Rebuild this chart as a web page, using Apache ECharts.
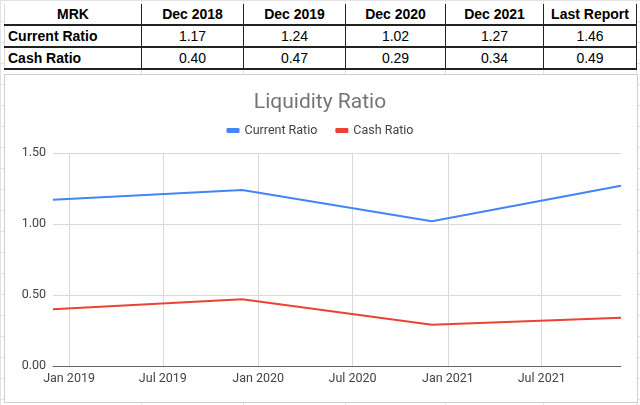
<!DOCTYPE html>
<html>
<head>
<meta charset="utf-8">
<script src="https://cdn.jsdelivr.net/npm/echarts@6/dist/echarts.min.js"></script>
<style>
  html, body { margin: 0; padding: 0; width: 640px; height: 405px; overflow: hidden; background: #fff; }
  #bg { position: absolute; left: 0; top: 0; width: 640px; height: 405px;
    background-image:
      linear-gradient(to right, #e2e2e2 1px, transparent 1px),
      linear-gradient(to bottom, #e2e2e2 1px, transparent 1px);
    background-size: 100% 100%, 100% 21px;
  }
  .vline { position: absolute; top: 0; width: 1px; height: 405px; background: #e2e2e2; }
  #box { position: absolute; left: 4px; top: 74px; width: 632px; height: 327px; background: #fff; border: 1px solid #cfcfcf; }
  #tbl { position: absolute; left: 4px; top: 4px; border-collapse: collapse; font-family: "Liberation Sans", Arial, sans-serif; font-size: 14px; color: #000; background: #fff; table-layout: fixed; }
  #tbl td { padding: 0 3px; height: 20px; border-right: 1px solid #222; border-bottom: 2px solid #222; text-align: center; white-space: nowrap; overflow: hidden; }
  #tbl tr:first-child td { border-top: 1px solid #d9d9d9; height: 19px; }
  #tbl td.lab { text-align: left; font-weight: bold; }
  #tbl td.hd { font-weight: bold; }
  #tbl td:last-child { border-right: 1px solid #222; }
  #tbl td:first-child { border-left: 1px solid #d9d9d9; }
  #chart { position: absolute; left: 0; top: 0; width: 640px; height: 405px; }
</style>
</head>
<body>
<div id="bg"></div>
<div class="vline" style="left:141px"></div>
<div class="vline" style="left:243px"></div>
<div class="vline" style="left:345px"></div>
<div class="vline" style="left:445px"></div>
<div class="vline" style="left:543px"></div>
<div class="vline" style="left:636px"></div>
<div id="box"></div>
<table id="tbl"></table>
<div id="chart"></div>
<script>
// ---- data ----
const tableTitle = 'MRK';
const periods = ['Dec 2018', 'Dec 2019', 'Dec 2020', 'Dec 2021', 'Last Report'];
const rowNames = ['Current Ratio', 'Cash Ratio'];
const currentRatio = [1.17, 1.24, 1.02, 1.27, 1.46];
const cashRatio = [0.40, 0.47, 0.29, 0.34, 0.49];
const chartDates = ['2018-12-01', '2019-12-01', '2020-12-01', '2021-12-01'];
const xTickDates = ['2019-01-01', '2019-07-01', '2020-01-01', '2020-07-01', '2021-01-01', '2021-07-01'];
const xTickLabels = ['Jan 2019', 'Jul 2019', 'Jan 2020', 'Jul 2020', 'Jan 2021', 'Jul 2021'];
const yTicks = [0, 0.5, 1.0, 1.5];
const chartTitle = 'Liquidity Ratio';

// ---- table ----
const colWidths = [137, 102, 102, 100, 98, 93];
const tbl = document.getElementById('tbl');
const cg = document.createElement('colgroup');
colWidths.forEach(w => { const c = document.createElement('col'); c.style.width = w + 'px'; cg.appendChild(c); });
tbl.appendChild(cg);
function addRow(cells, cls) {
  const tr = document.createElement('tr');
  cells.forEach((t, i) => {
    const td = document.createElement('td');
    td.textContent = t;
    if (cls === 'hd') td.className = 'hd';
    else if (i === 0) td.className = 'lab';
    tr.appendChild(td);
  });
  tbl.appendChild(tr);
}
addRow([tableTitle].concat(periods), 'hd');
addRow([rowNames[0]].concat(currentRatio.map(v => v.toFixed(2))), 'v');
addRow([rowNames[1]].concat(cashRatio.map(v => v.toFixed(2))), 'v');

// ---- chart ----
const ts = s => new Date(s + 'T00:00:00Z').getTime();
const xs = chartDates.map(ts);
const tickTs = xTickDates.map(ts);
const labelMap = {};
tickTs.forEach((t, i) => { labelMap[t] = xTickLabels[i]; });

const chart = echarts.init(document.getElementById('chart'), null, { renderer: 'canvas' });
const fontFam = 'Roboto, "Liberation Sans", Arial, sans-serif';
chart.setOption({
  backgroundColor: 'transparent',
  animation: false,
  title: {
    text: chartTitle, left: 'center', top: 87,
    textStyle: { fontSize: 21, fontWeight: 'normal', color: '#757575', fontFamily: fontFam }
  },
  legend: {
    top: 119, left: 'center', icon: 'roundRect', itemWidth: 13, itemHeight: 5, itemGap: 18,
    textStyle: { fontSize: 12.5, color: '#444', fontFamily: fontFam },
    data: rowNames
  },
  grid: { left: 53, right: 19, top: 153, bottom: 39, containLabel: false },
  xAxis: {
    type: 'value',
    min: xs[0], max: xs[xs.length - 1],
    axisLine: { show: true, lineStyle: { color: '#666', width: 1 } },
    axisTick: { show: false, customValues: tickTs },
    splitLine: { show: true, lineStyle: { color: '#d9d9d9', width: 1 } },
    axisLabel: {
      customValues: tickTs, margin: 6, color: '#444', fontSize: 12.5, fontFamily: fontFam,
      formatter: v => labelMap[v] || ''
    }
  },
  yAxis: {
    type: 'value', min: yTicks[0], max: yTicks[yTicks.length - 1], interval: yTicks[1] - yTicks[0],
    axisLine: { show: false }, axisTick: { show: false },
    splitLine: { lineStyle: { color: '#d9d9d9', width: 1 } },
    axisLabel: { color: '#444', fontSize: 12.5, margin: 7, fontFamily: fontFam, formatter: v => v.toFixed(2) }
  },
  series: [
    { name: rowNames[0], type: 'line', data: xs.map((x, i) => [x, currentRatio[i]]),
      symbol: 'none', lineStyle: { color: '#4285f4', width: 2 }, itemStyle: { color: '#4285f4' } },
    { name: rowNames[1], type: 'line', data: xs.map((x, i) => [x, cashRatio[i]]),
      symbol: 'none', lineStyle: { color: '#ea4335', width: 2 }, itemStyle: { color: '#ea4335' } }
  ]
});
</script>
</body>
</html>
